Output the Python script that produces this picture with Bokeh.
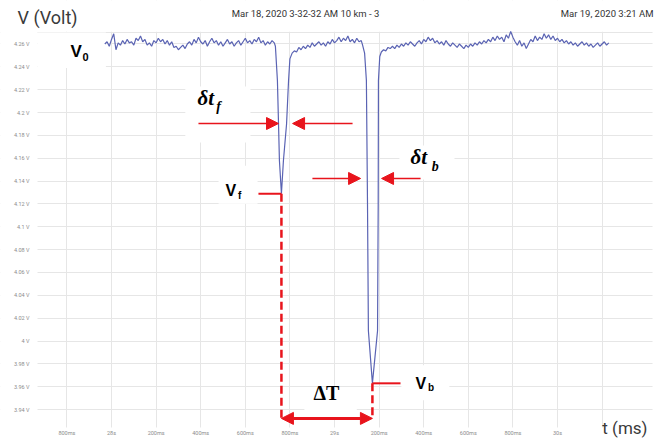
import numpy as np
from bokeh.plotting import figure
from bokeh.models import Label, Arrow, NormalHead, FixedTicker, Range1d
from bokeh.embed import file_html
from bokeh.resources import INLINE

# ---------------- data (time in s, voltage in V) ----------------
seg1_start, seg2_start, seg3_start, step = 27.97, 28.81, 29.21, 0.01
seg1_v = [4.260, 4.262, 4.258, 4.264, 4.269, 4.255, 4.261, 4.259, 4.263, 4.260,
          4.264, 4.261, 4.262, 4.259, 4.265, 4.263, 4.267, 4.262, 4.264, 4.259,
          4.261, 4.258, 4.263, 4.261, 4.265, 4.262, 4.264, 4.260, 4.263, 4.259,
          4.262, 4.257, 4.258, 4.255, 4.257, 4.259, 4.256, 4.260, 4.262, 4.259,
          4.264, 4.261, 4.266, 4.262, 4.260, 4.263, 4.258, 4.262, 4.265, 4.261,
          4.263, 4.259, 4.262, 4.258, 4.261, 4.264, 4.260, 4.262, 4.258, 4.261,
          4.263, 4.259, 4.262, 4.265, 4.261, 4.263, 4.260, 4.264, 4.262, 4.266,
          4.261, 4.263, 4.259, 4.262, 4.260, 4.263, 4.261]
dip1_t = [28.735, 28.744, 28.749, 28.753, 28.762, 28.771, 28.785, 28.794, 28.800]
dip1_v = [4.258, 4.228, 4.190, 4.158, 4.129, 4.158, 4.190, 4.228, 4.247]
seg2_v = [4.252, 4.254, 4.253, 4.257, 4.255, 4.258, 4.256, 4.259, 4.257, 4.261,
          4.258, 4.260, 4.262, 4.259, 4.261, 4.258, 4.262, 4.260, 4.264, 4.261,
          4.263, 4.266, 4.262, 4.265, 4.263, 4.267, 4.262, 4.264, 4.261, 4.265,
          4.262, 4.263]
dip2_t = [29.126, 29.135, 29.143, 29.148, 29.152, 29.170, 29.193, 29.196, 29.197, 29.203]
dip2_v = [4.259, 4.252, 4.228, 4.120, 4.009, 3.963, 4.009, 4.120, 4.228, 4.249]
seg3_v = [4.253, 4.255, 4.254, 4.257, 4.256, 4.258, 4.256, 4.259, 4.257, 4.260,
          4.258, 4.261, 4.259, 4.262, 4.260, 4.258, 4.261, 4.263, 4.260, 4.264,
          4.262, 4.266, 4.263, 4.265, 4.261, 4.263, 4.260, 4.262, 4.259, 4.263,
          4.260, 4.258, 4.261, 4.259, 4.257, 4.260, 4.258, 4.256, 4.259, 4.257,
          4.260, 4.258, 4.261, 4.259, 4.262, 4.260, 4.263, 4.261, 4.264, 4.262,
          4.266, 4.263, 4.267, 4.264, 4.266, 4.262, 4.268, 4.265, 4.271, 4.266,
          4.262, 4.259, 4.263, 4.258, 4.261, 4.256, 4.260, 4.264, 4.262, 4.267,
          4.263, 4.266, 4.264, 4.269, 4.265, 4.268, 4.264, 4.267, 4.263, 4.265,
          4.262, 4.264, 4.261, 4.263, 4.260, 4.262, 4.259, 4.261, 4.258, 4.260,
          4.262, 4.259, 4.261, 4.258, 4.260, 4.257, 4.259, 4.261, 4.258, 4.260,
          4.262, 4.259, 4.261]

y_ticks = [4.27, 4.26, 4.24, 4.22, 4.2, 4.18, 4.16, 4.14, 4.12, 4.1, 4.08, 4.06,
           4.04, 4.02, 4.0, 3.98, 3.96, 3.94]
y_labels = ["", "4.26 V", "4.24 V", "4.22 V", "4.2 V", "4.18 V", "4.16 V", "4.14 V",
            "4.12 V", "4.1 V", "4.08 V", "4.06 V", "4.04 V", "4.02 V", "4 V",
            "3.98 V", "3.96 V", "3.94 V"]
x_ticks = [27.8, 28.0, 28.2, 28.4, 28.6, 28.8, 29.0, 29.2, 29.4, 29.6, 29.8, 30.0, 30.2]
x_labels = ["800ms", "28s", "200ms", "400ms", "600ms", "800ms", "29s", "200ms",
            "400ms", "600ms", "800ms", "30s", ""]

def seg_times(start, vals):
    return [round(start + step * i, 4) for i in range(len(vals))]

t_all = seg_times(seg1_start, seg1_v) + dip1_t + seg_times(seg2_start, seg2_v) + dip2_t + seg_times(seg3_start, seg3_v)
v_all = seg1_v + dip1_v + seg2_v + dip2_v + seg3_v

i_f = int(np.argmin(dip1_v)); tf, vf = dip1_t[i_f], dip1_v[i_f]
i_b = int(np.argmin(dip2_v)); tb, vb = dip2_t[i_b], dip2_v[i_b]

RED = "#e8141c"
GRID = "#e6e6e6"

# whole canvas is the plotting frame; the axes are pinned at the grid's edges
T0, T1 = 27.50224, 30.47982          # canvas left / right
V0, V1 = 3.90858, 4.29807            # canvas bottom / top
T_LEFT, T_RIGHT = 27.66816, 30.42610  # grid area left / right
V_BOT, V_TOP = 3.92433, 4.27010       # grid area bottom / top

p = figure(width=664, height=445, x_range=Range1d(T0, T1), y_range=Range1d(V0, V1),
           output_backend="svg", toolbar_location=None,
           min_border_left=0, min_border_right=0, min_border_top=0, min_border_bottom=0)
p.title.visible = False
p.outline_line_color = None
p.background_fill_color = "white"
p.border_fill_color = "white"

for ax, ticks, labels in ((p.xaxis[0], x_ticks, x_labels), (p.yaxis[0], y_ticks, y_labels)):
    ax.ticker = FixedTicker(ticks=ticks)
    ax.major_label_overrides = dict(zip(ticks, labels))
    ax.axis_line_color = None
    ax.major_tick_line_color = None
    ax.minor_tick_line_color = None
    ax.major_label_text_font = "Roboto"
    ax.major_label_text_font_size = "5.5px"
    ax.major_label_text_color = "#8c8c8c"
    ax.major_label_standoff = 2
p.xaxis.major_label_standoff = 1
p.xaxis.fixed_location = 3.9283
p.yaxis.fixed_location = T_LEFT
p.xgrid.ticker = FixedTicker(ticks=x_ticks)
p.ygrid.ticker = FixedTicker(ticks=y_ticks)
p.xgrid.grid_line_color = GRID
p.ygrid.grid_line_color = GRID

# white margins around the grid area, and white boxes behind the labels
p.quad(left=[T0, T0, T0, T_RIGHT, 28.331, 28.480, 29.291, 29.300, 28.865],
       right=[T_LEFT, T1, T1, T1, 28.623, 28.655, 29.538, 29.515, 29.100],
       bottom=[V0, V_TOP + 0.0006, V0, V0, 4.1737, 4.1201, 4.1413, 3.9482, 3.9316],
       top=[V1, V1, V_BOT, V1, 4.2227, 4.1534, 4.1711, 3.9788, 3.9595],
       fill_color="white", line_color=None)
p.quad(left=[T_LEFT], right=[27.975], bottom=[4.2389], top=[V_TOP],
       fill_color="white", line_color=None)

p.line(t_all, v_all, line_color="#5a63b3", line_width=1.2)

# red markers
p.segment(x0=[28.659, tb], y0=[vf, vb], x1=[tf, 29.296], y1=[vf, vb],
          line_color=RED, line_width=2)
p.segment(x0=[tf, tb], y0=[vf, vb], x1=[tf, tb], y1=[3.9323, 3.9323],
          line_color=RED, line_width=2.5, line_dash="8 4")

def arrow(x0, y0, x1, y1, lw=1.5, both=False, size=12):
    head = lambda: NormalHead(size=size, fill_color=RED, line_color=RED, line_width=1)
    a = Arrow(end=head(), start=head() if both else None,
              x_start=x0, y_start=y0, x_end=x1, y_end=y1,
              line_color=RED, line_width=lw)
    p.add_layout(a)

arrow(28.390, 4.1904, 28.749, 4.1904)
arrow(29.081, 4.1904, 28.812, 4.1904)
arrow(28.901, 4.1423, 29.117, 4.1423)
arrow(29.386, 4.1423, 29.211, 4.1423)
arrow(tf, 3.9323, tb, 3.9323, lw=3, both=True, size=12)

def label(x, y, text, size, font="Liberation Sans", style="normal", color="black",
          align="left"):
    p.add_layout(Label(x=x, y=y, text=text, text_font=font, text_font_size=size,
                       text_font_style=style, text_color=color,
                       text_align=align, text_baseline="middle"))

# header / footer texts
label(27.5784, 4.2832, "V (Volt)", "18px", font="Roboto", color="#3a3a3a")
label(28.8700, 4.2867, "Mar 18, 2020 3-32-32 AM 10 km - 3", "9.5px", font="Roboto",
      color="#333333", align="center")
label(30.4305, 4.2867, "Mar 19, 2020 3:21 AM", "9.5px", font="Roboto",
      color="#333333", align="right")
label(30.4036, 3.9237, "t (ms)", "17px", font="Roboto", color="#3a3a3a", align="right")

# symbols
label(27.816, 4.2534, "V", "17px", style="bold")
label(27.870, 4.2490, "0", "11px", style="bold")
label(28.511, 4.1318, "V", "16px", style="bold")
label(28.567, 4.1274, "f", "10px", style="bold")
label(29.363, 3.9630, "V", "16px", style="bold")
label(29.419, 3.9595, "b", "10px", style="bold")
label(28.386, 4.2123, "δt", "21px", font="Liberation Serif", style="bold italic")
label(28.470, 4.2053, "f", "14px", font="Liberation Serif", style="bold italic")
label(29.341, 4.1607, "δt", "21px", font="Liberation Serif", style="bold italic")
label(29.436, 4.1528, "b", "14px", font="Liberation Serif", style="bold italic")
label(28.964, 3.9542, "ΔT", "20px", font="Liberation Serif", style="bold", align="center")

open("out.html", "w").write(file_html(p, INLINE))
